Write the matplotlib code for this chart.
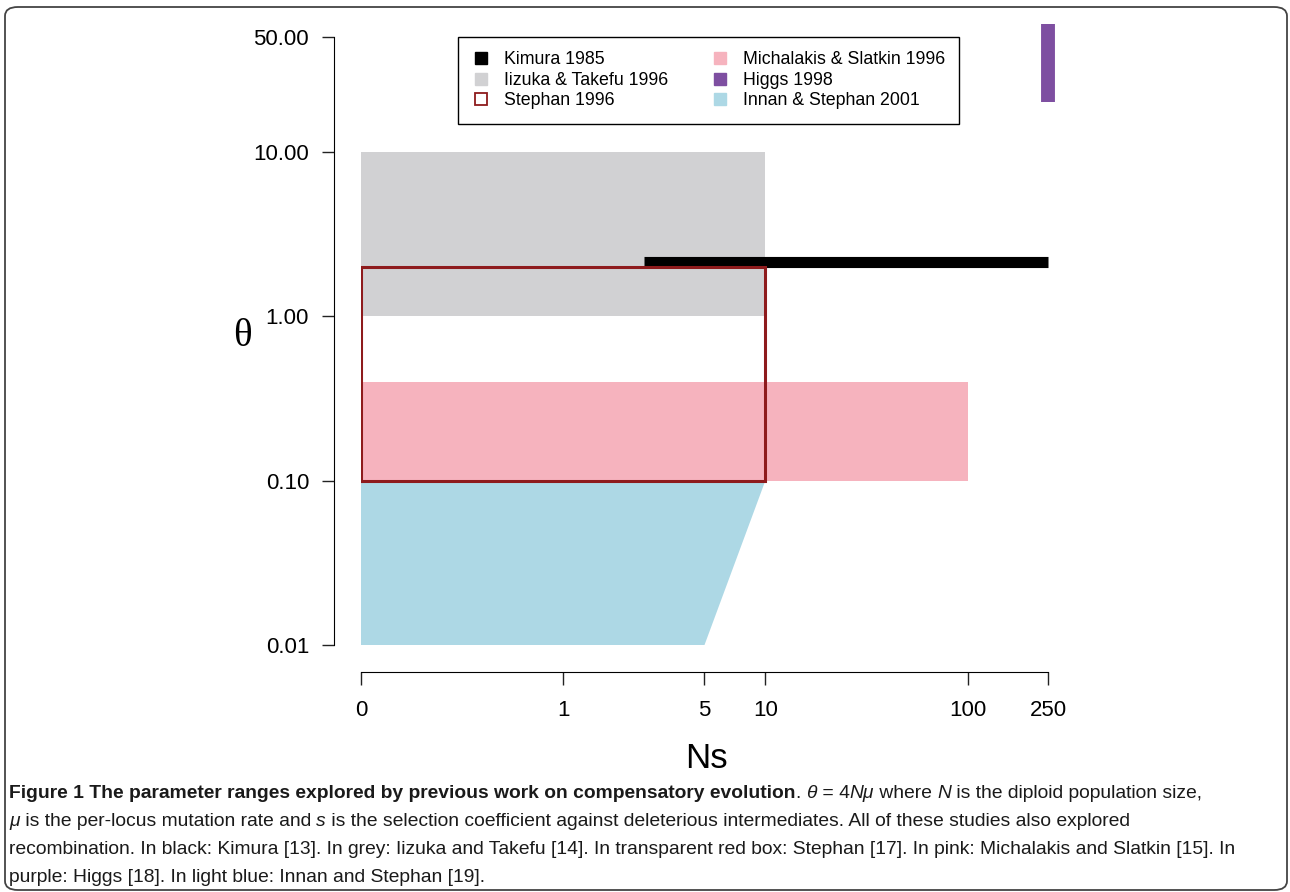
import matplotlib
matplotlib.use("Agg")
import matplotlib.pyplot as plt
from matplotlib.lines import Line2D
from matplotlib.patches import FancyBboxPatch

# ranges explored by earlier studies (Ns on x, theta on y)
iizuka_ns = [0.1, 10]
iizuka_theta = [1, 10]
michalakis_ns = [0.1, 100]
michalakis_theta = [0.1, 0.4]
stephan_ns = [0.1, 10]
stephan_theta = [0.1, 2]
innan_ns = [0.1, 5, 10, 0.1]
innan_theta = [0.01, 0.01, 0.1, 0.1]
kimura_ns = [2.5, 250]
kimura_theta = [2.15, 2.15]
higgs_ns = [250, 250]
higgs_theta = [20, 60]

xticks = [0.1, 1, 5, 10, 100, 250]
xticklabels = ["0", "1", "5", "10", "100", "250"]
yticks = [0.01, 0.1, 1, 10, 50]
yticklabels = ["0.01", "0.10", "1.00", "10.00", "50.00"]

names = ["Kimura 1985", "Iizuka & Takefu 1996", "Stephan 1996",
         "Michalakis & Slatkin 1996", "Higgs 1998", "Innan & Stephan 2001"]

c_grey = "#D1D1D3"
c_pink = "#F6B3BE"
c_blue = "#ADD8E5"
c_purple = "#7E4FA1"
c_red = "#8E1B1D"

plt.rcParams["font.family"] = ["Liberation Sans", "DejaVu Sans"]

W, H = 1290, 892
fig = plt.figure(figsize=(W / 100, H / 100), dpi=100)
ax = fig.add_axes([361 / W, 1 - 645 / H, (1048 - 361) / W, (645 - 37) / H])
ax.set_xscale("log")
ax.set_yscale("log")
ax.set_xlim(0.1, 250)
ax.set_ylim(0.01, 50)

ax.fill([iizuka_ns[0], iizuka_ns[1], iizuka_ns[1], iizuka_ns[0]],
        [iizuka_theta[0], iizuka_theta[0], iizuka_theta[1], iizuka_theta[1]],
        color=c_grey, lw=0)
ax.fill([michalakis_ns[0], michalakis_ns[1], michalakis_ns[1], michalakis_ns[0]],
        [michalakis_theta[0], michalakis_theta[0], michalakis_theta[1], michalakis_theta[1]],
        color=c_pink, lw=0)
ax.fill(innan_ns, innan_theta, color=c_blue, lw=0)
ax.plot(kimura_ns, kimura_theta, color="black", lw=8, solid_capstyle="butt", clip_on=False)
ax.plot(higgs_ns, higgs_theta, color=c_purple, lw=10, solid_capstyle="butt", clip_on=False)
ax.plot([stephan_ns[0], stephan_ns[1], stephan_ns[1], stephan_ns[0], stephan_ns[0]],
        [stephan_theta[0], stephan_theta[0], stephan_theta[1], stephan_theta[1], stephan_theta[0]],
        color=c_red, lw=2.2, solid_joinstyle="miter")

# R style axes
for s in ["top", "right"]:
    ax.spines[s].set_visible(False)
ax.spines["left"].set_position(("outward", 19.4))
ax.spines["bottom"].set_position(("outward", 19.4))
ax.spines["left"].set_bounds(0.01, 50)
ax.spines["bottom"].set_bounds(0.1, 250)
ax.set_xticks(xticks, xticklabels)
ax.set_yticks(yticks, yticklabels)
ax.minorticks_off()
ax.tick_params(axis="both", length=9, width=1, labelsize=16, color="#222222")
ax.tick_params(axis="x", pad=11)
ax.tick_params(axis="y", pad=9)

fig.text(242 / W, 1 - 337 / H, "θ", family=["Liberation Serif", "DejaVu Serif"],
         fontsize=28, ha="center", va="center")
fig.text(706 / W, 1 - 758 / H, "Ns", fontsize=25, ha="center", va="center")

handles = [
    Line2D([], [], ls="", marker="s", ms=9, mfc="black", mec="black"),
    Line2D([], [], ls="", marker="s", ms=9, mfc=c_grey, mec=c_grey),
    Line2D([], [], ls="", marker="s", ms=9, mfc="none", mec=c_red, mew=1.3),
    Line2D([], [], ls="", marker="s", ms=9, mfc=c_pink, mec=c_pink),
    Line2D([], [], ls="", marker="s", ms=9, mfc=c_purple, mec=c_purple),
    Line2D([], [], ls="", marker="s", ms=9, mfc=c_blue, mec=c_blue),
]
leg = fig.legend(handles, names, ncol=2, loc="upper left",
                 bbox_to_anchor=(458 / W, 1 - 37 / H), borderaxespad=0,
                 fontsize=12.8, handlelength=1.0, handletextpad=0.8,
                 columnspacing=2.4, labelspacing=0.2, borderpad=0.8,
                 fancybox=False, framealpha=1)
leg.get_frame().set_edgecolor("black")
leg.get_frame().set_linewidth(1.0)

# caption, drawn piece by piece so bold/italic can mix
cap_font = ["Liberation Sans Narrow", "Liberation Sans", "DejaVu Sans"]
cap_size = 13.9
renderer = fig.canvas.get_renderer()


def draw_line(y_px, parts):
    x = 9
    for txt, weight, style in parts:
        t = fig.text(x / W, 1 - y_px / H, txt, family=cap_font, fontsize=cap_size,
                     weight=weight, style=style, va="center", ha="left", color="#1a1a1a")
        bb = t.get_window_extent(renderer)
        x = bb.x1


draw_line(793, [
    ("Figure 1 The parameter ranges explored by previous work on compensatory evolution", "bold", "normal"),
    (". ", "normal", "normal"),
    ("θ", "normal", "italic"),
    (" = 4", "normal", "normal"),
    ("Nμ", "normal", "italic"),
    (" where ", "normal", "normal"),
    ("N", "normal", "italic"),
    (" is the diploid population size,", "normal", "normal"),
])
draw_line(821, [
    ("μ", "normal", "italic"),
    (" is the per-locus mutation rate and ", "normal", "normal"),
    ("s", "normal", "italic"),
    (" is the selection coefficient against deleterious intermediates. All of these studies also explored",
     "normal", "normal"),
])
draw_line(849, [("recombination. In black: Kimura [13]. In grey: Iizuka and Takefu [14]. In transparent red box: "
                 "Stephan [17]. In pink: Michalakis and Slatkin [15]. In", "normal", "normal")])
draw_line(877, [("purple: Higgs [18]. In light blue: Innan and Stephan [19].", "normal", "normal")])

border = FancyBboxPatch((5 / W, 2 / H), 1282 / W, (885 - 2) / H,
                        boxstyle="round,pad=0,rounding_size=0.01",
                        transform=fig.transFigure, fill=False, ec="#444444", lw=1.3)
fig.patches.append(border)

fig.savefig("out.png", dpi=100)
